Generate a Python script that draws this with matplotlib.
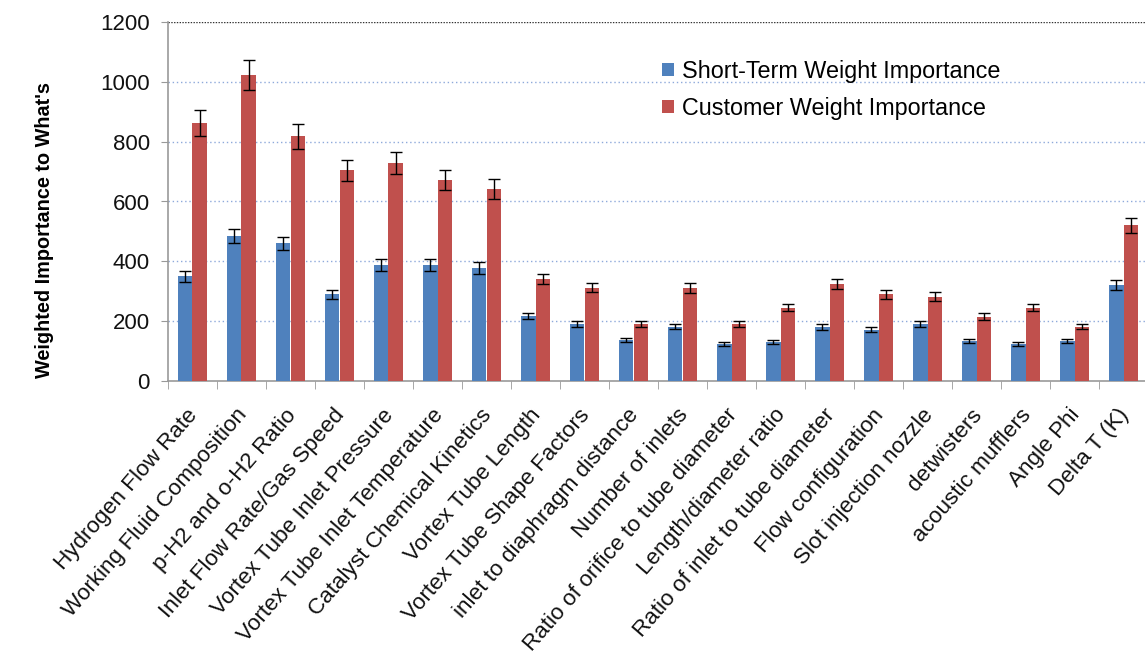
import matplotlib
matplotlib.use("Agg")
import matplotlib.pyplot as plt
import matplotlib.transforms as mtrans
import numpy as np

plt.rcParams['font.family'] = ['Liberation Sans', 'DejaVu Sans']

categories = ["Hydrogen Flow Rate", "Working Fluid Composition", "p-H2 and o-H2 Ratio",
              "Inlet Flow Rate/Gas Speed", "Vortex Tube Inlet Pressure",
              "Vortex Tube Inlet Temperature", "Catalyst Chemical Kinetics",
              "Vortex Tube Length", "Vortex Tube Shape Factors", "inlet to diaphragm distance",
              "Number of inlets", "Ratio of orifice to tube diameter", "Length/diameter ratio",
              "Ratio of inlet to tube diameter", "Flow configuration", "Slot injection nozzle",
              "detwisters", "acoustic mufflers", "Angle Phi", "Delta T (K)"]
short_term = [350, 485, 460, 290, 388, 388, 378, 217, 190, 137, 182, 125, 130, 180, 172, 192, 133, 125, 135, 320]
short_err = [18, 24, 22, 15, 19, 19, 19, 11, 10, 7, 9, 7, 7, 10, 9, 10, 7, 7, 7, 16]
customer = [862, 1022, 818, 705, 728, 672, 642, 340, 312, 190, 310, 190, 245, 325, 290, 282, 215, 245, 182, 520]
customer_err = [43, 50, 41, 35, 36, 34, 32, 17, 16, 10, 16, 10, 12, 16, 15, 14, 11, 12, 9, 26]
yticks = [0, 200, 400, 600, 800, 1000, 1200]

BLUE = "#4F81BD"
RED = "#C0504D"

fig = plt.figure(figsize=(11.45, 6.66), dpi=100)
ax = fig.add_axes([168/1145, 1 - 381/666, (1148-168)/1145, (381-22)/666])

x = np.arange(len(categories))
w = 0.29
ekw = dict(ecolor="black", elinewidth=1.0, capsize=4, capthick=1.0)
ax.bar(x - w/2, short_term, w, yerr=short_err, color=BLUE, label="Short-Term Weight Importance",
       error_kw=ekw, zorder=3)
ax.bar(x + w/2, customer, w, yerr=customer_err, color=RED, label="Customer Weight Importance",
       error_kw=ekw, zorder=3)

ax.set_xlim(-0.5, len(categories) - 0.5)
ax.set_ylim(0, 1200)
ax.set_yticks(yticks)
ax.set_yticklabels([str(v) for v in yticks], fontsize=16)
for v in yticks[1:-1]:
    ax.axhline(v, color="#8EA9DB", linestyle=(0, (1, 2)), linewidth=1.0, zorder=1)
ax.axhline(1200, color="#333333", linestyle=(0, (1, 1)), linewidth=1.0, zorder=1)

ax.set_xticks(np.arange(len(categories) + 1) - 0.5, minor=True)
ax.set_xticks(x)
ax.set_xticklabels(categories, rotation=49, ha="right", rotation_mode="anchor", fontsize=16.2,
                   color="#111111")
ax.tick_params(axis="x", which="major", length=0, pad=17)
ax.tick_params(axis="x", which="minor", length=6, color="#999999")
ax.tick_params(axis="y", length=5, color="#999999", pad=8, labelcolor="#111111")
shift = mtrans.ScaledTranslation(-6/100, 0, fig.dpi_scale_trans)
for lbl in ax.get_xticklabels():
    lbl.set_transform(lbl.get_transform() + shift)

for s in ["top", "right"]:
    ax.spines[s].set_visible(False)
for s in ["left", "bottom"]:
    ax.spines[s].set_color("#999999")
    ax.spines[s].set_linewidth(1.2)

ax.set_ylabel("Weighted Importance to What's", fontsize=14.3, fontweight="bold")
ax.yaxis.set_label_coords(-(168-54)/980, 0.42)

ax.legend(loc="upper left", bbox_to_anchor=(0.49, 0.933), frameon=False, fontsize=16.8,
          handlelength=0.5, handleheight=0.5, handletextpad=0.35, labelspacing=0.6,
          borderaxespad=0.2)

fig.savefig("out.png", dpi=100)
